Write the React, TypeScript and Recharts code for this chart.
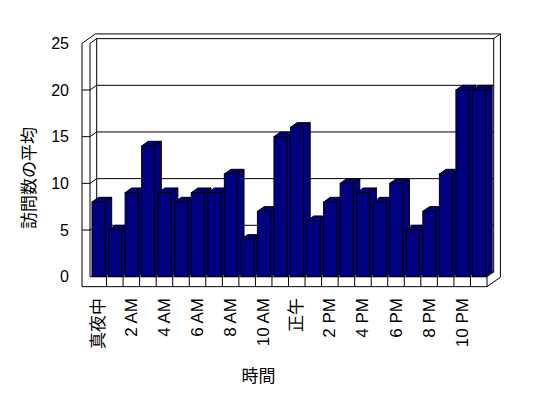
import React from 'react';
import { BarChart, Bar, XAxis, YAxis } from 'recharts';

const hours = [
  '真夜中', '1 AM', '2 AM', '3 AM', '4 AM', '5 AM', '6 AM', '7 AM', '8 AM', '9 AM', '10 AM', '11 AM',
  '正午', '1 PM', '2 PM', '3 PM', '4 PM', '5 PM', '6 PM', '7 PM', '8 PM', '9 PM', '10 PM', '11 PM',
];
const visits = [8, 5, 9, 14, 9, 8, 9, 9, 11, 4, 7, 15, 16, 6, 8, 10, 9, 8, 10, 5, 7, 11, 20, 20];
const yTicks = [0, 5, 10, 15, 20, 25];

const data = hours.map((h, i) => ({ hour: h, visits: visits[i] }));

const W = 548;
const H = 398;
const LEFT = 90;
const RIGHT = 487;
const TOP = 43.33;
const BOTTOM = 276.67;
const DX = 6.7;
const DY = 4.7;
const FLOOR = 10;
const FRONT_LEFT = 82;
const FONT = "'Liberation Sans', 'Noto Sans CJK JP', sans-serif";
const NAVY = '#000080';

const yPos = (v: number) => BOTTOM - (v / 25) * (BOTTOM - TOP);

// 3D box for each bar
const Bar3D = (props: any) => {
  const { x, y, width, height } = props;
  if (height <= 0) return null;
  const top = `${x},${y} ${x + DX},${y - DY} ${x + width + DX},${y - DY} ${x + width},${y}`;
  const side = `${x + width},${y} ${x + width + DX},${y - DY} ${x + width + DX},${y + height - DY} ${x + width},${y + height}`;
  return (
    <g stroke="#000" strokeWidth={1}>
      <polygon points={side} fill={NAVY} />
      <polygon points={top} fill={NAVY} />
      <rect x={x} y={y} width={width} height={height} fill={NAVY} />
    </g>
  );
};

// walls, floor and back gridlines drawn behind the chart
const Walls = () => {
  const band = (RIGHT - LEFT) / hours.length;
  const fb = BOTTOM + FLOOR;
  const outline = [
    [FRONT_LEFT, TOP],
    [FRONT_LEFT + 2 * DX, TOP - 2 * DY],
    [RIGHT + 2 * DX, TOP - 2 * DY],
    [RIGHT + 2 * DX, fb - 2 * DY],
    [RIGHT, fb],
    [FRONT_LEFT, fb],
  ].map(p => p.join(',')).join(' ');
  return (
    <svg width={W} height={H} style={{ position: 'absolute', left: 0, top: 0 }}>
      <g stroke="#000" strokeWidth={1} fill="none">
        <polygon points={outline} fill="#fff" />
        <rect x={LEFT + DX} y={TOP - DY} width={RIGHT - LEFT} height={BOTTOM - TOP} />
        <line x1={RIGHT + DX} y1={TOP - DY} x2={RIGHT + 2 * DX} y2={TOP - 2 * DY} />
        <line x1={LEFT} y1={TOP} x2={LEFT + DX} y2={TOP - DY} />
        <line x1={LEFT} y1={TOP} x2={LEFT} y2={BOTTOM} />
        <line x1={LEFT} y1={BOTTOM} x2={RIGHT} y2={BOTTOM} />
        <line x1={RIGHT} y1={BOTTOM} x2={RIGHT + DX} y2={BOTTOM - DY} />
        <line x1={RIGHT} y1={BOTTOM} x2={RIGHT} y2={fb} />
        {yTicks.slice(1, -1).map(v => (
          <g key={v}>
            <line x1={FRONT_LEFT} y1={yPos(v)} x2={LEFT} y2={yPos(v)} />
            <line x1={LEFT} y1={yPos(v)} x2={LEFT + DX} y2={yPos(v) - DY} />
            <line x1={LEFT + DX} y1={yPos(v) - DY} x2={RIGHT + DX} y2={yPos(v) - DY} />
          </g>
        ))}
        {hours.slice(1).map((_, i) => (
          <line key={i} x1={LEFT + (i + 1) * band} y1={BOTTOM} x2={LEFT + (i + 1) * band} y2={fb} />
        ))}
      </g>
    </svg>
  );
};

const HourTick = (props: any) => {
  const { x, payload } = props;
  return (
    <text
      x={0}
      y={0}
      transform={`translate(${x},298) rotate(-90)`}
      textAnchor="end"
      dominantBaseline="central"
      fontSize={17}
      fontFamily={FONT}
      fill="#000"
    >
      {payload.value}
    </text>
  );
};

export default function App() {
  return (
    <div style={{ position: 'absolute', left: 0, top: 0, width: W, height: H, background: '#fff' }}>
      <Walls />
      <div style={{ position: 'absolute', left: 0, top: 0 }}>
        <BarChart
          width={W}
          height={H}
          data={data}
          margin={{ top: TOP, right: W - RIGHT, bottom: H - BOTTOM - 30, left: 0 }}
        >
          <XAxis
            dataKey="hour"
            height={30}
            axisLine={false}
            tickLine={false}
            interval={1}
            tick={<HourTick />}
          />
          <YAxis
            width={LEFT}
            domain={[0, 25]}
            ticks={yTicks}
            axisLine={false}
            tickLine={false}
            tickMargin={15}
            tick={{ fontSize: 16, fontFamily: FONT, fill: '#000' }}
          />
          <Bar dataKey="visits" barSize={13} shape={<Bar3D />} isAnimationActive={false} />
          <text x={29.5} y={178} transform="rotate(-90, 29.5, 178)" textAnchor="middle" dominantBaseline="central" fontSize={17} fontFamily={FONT}>
            訪問数の平均
          </text>
          <text x={258.5} y={376} textAnchor="middle" dominantBaseline="central" fontSize={17} fontFamily={FONT}>
            時間
          </text>
        </BarChart>
      </div>
    </div>
  );
}
